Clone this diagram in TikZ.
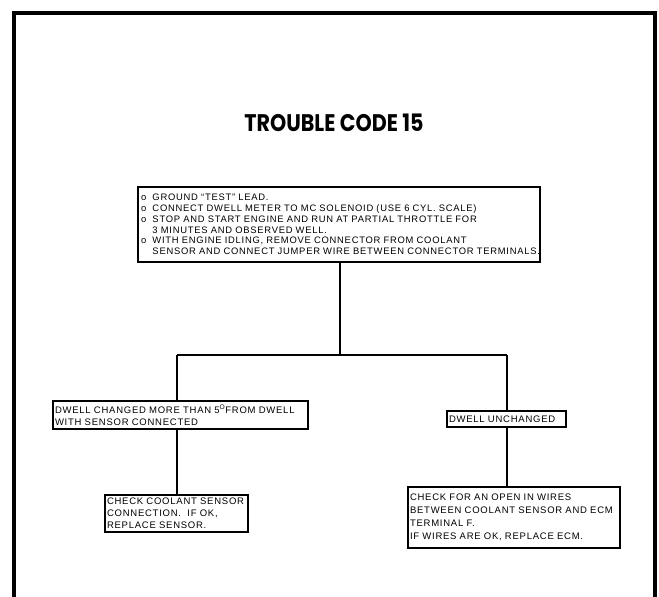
\documentclass[tikz,border=0pt]{standalone}
\usepackage{fontspec}
\setmainfont{Liberation Sans}
\newfontfamily\dfont[LetterSpace=8]{Liberation Sans}
\newfontfamily\titlefont[FakeStretch=0.86]{Poppins}
\begin{document}
\begin{tikzpicture}[x=1pt,y=-1pt,
  box/.style={draw,line width=1.3pt,inner sep=2pt,align=left,font=\dfont\fontsize{9.5}{12}\selectfont},
  conn/.style={line width=1.4pt},
  frame/.style={line width=4pt}]
\useasboundingbox (0,0) rectangle (659,597);
\draw[frame] (14,600) -- (14,13) -- (655,13) -- (655,600);
\node[font=\titlefont\bfseries\fontsize{24}{28}\selectfont] (title) at (334,123) {TROUBLE CODE 15};
\node[box,minimum width=402pt,minimum height=75pt,text width=396pt,font=\dfont\fontsize{9.4}{10.8}\selectfont] (top) at (339,224.5)
 {o\ \ GROUND “TEST” LEAD.\\
  o\ \ CONNECT DWELL METER TO MC SOLENOID (USE 6 CYL. SCALE)\\
  o\ \ STOP AND START ENGINE AND RUN AT PARTIAL THROTTLE FOR\\
  \phantom{o}\ \ 3 MINUTES AND OBSERVED WELL.\\
  o\ \ WITH ENGINE IDLING, REMOVE CONNECTOR FROM COOLANT\\
  \phantom{o}\ \ SENSOR AND CONNECT JUMPER WIRE BETWEEN CONNECTOR TERMINALS.};
\node[box,minimum width=255pt,minimum height=28pt,text width=251pt] (dc) at (180.5,415)
 {DWELL CHANGED MORE THAN 5\textsuperscript{O}FROM DWELL\\WITH SENSOR CONNECTED};
\node[box,minimum width=119pt,minimum height=16pt,text width=115pt] (du) at (506.5,419)
 {DWELL UNCHANGED};
\node[box,minimum width=143pt,minimum height=37pt,text width=139pt] (ckl) at (176.5,513.5)
 {CHECK COOLANT SENSOR\\CONNECTION.\ \ IF OK,\\REPLACE SENSOR.};
\node[box,minimum width=212pt,minimum height=61pt,text width=208pt,font=\dfont\fontsize{9.5}{13}\selectfont] (ckr) at (514,517.5)
 {CHECK FOR AN OPEN IN WIRES\\BETWEEN COOLANT SENSOR AND ECM\\TERMINAL F.\\IF WIRES ARE OK, REPLACE ECM.};
\coordinate (jl) at (177,355);
\coordinate (jr) at (507,355);
\coordinate (jm) at (340,355);
\draw[conn] (jm |- top.south) -- (jm);
\draw[conn] (jl) -- (jr);
\draw[conn] (jl) -- (jl |- dc.north);
\draw[conn] (jr) -- (jr |- du.north);
\draw[conn] (jl |- dc.south) -- (jl |- ckl.north);
\draw[conn] (jr |- du.south) -- (jr |- ckr.north);
\end{tikzpicture}
\end{document}
